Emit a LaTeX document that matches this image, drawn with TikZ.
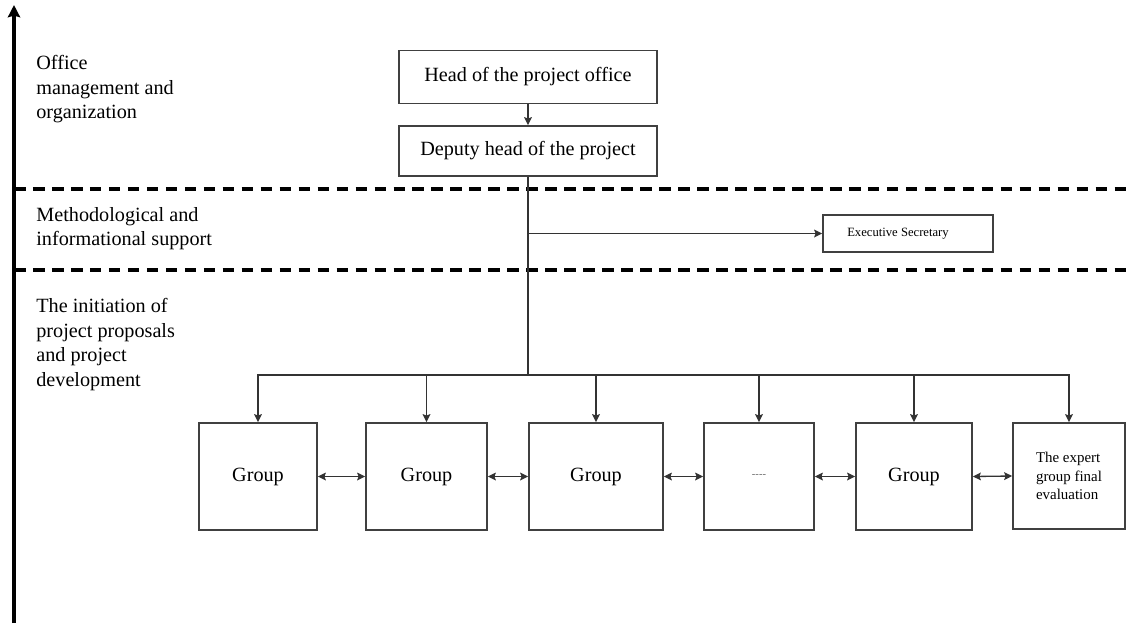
\documentclass[tikz,border=0pt]{standalone}
\usepackage{fontspec}
\setmainfont{Liberation Serif}
\usetikzlibrary{positioning}
\usetikzlibrary{arrows.meta}

\tikzset{
  box/.style={draw=black!75,line width=0.9pt,inner sep=0pt,font=\fontsize{11.5}{14}\selectfont},
  lvl/.style={anchor=north west,align=left,inner sep=0pt,font=\fontsize{11.5}{14}\selectfont},
  conn/.style={black!80,line width=0.75pt},
  arr/.style={conn,-{Stealth[length=4.6pt,width=4.4pt,inset=0.8pt]}},
  barr/.style={conn,{Stealth[length=4.6pt,width=4.4pt,inset=0.8pt]}-{Stealth[length=4.6pt,width=4.4pt,inset=0.8pt]}},
  sep/.style={line width=2.2pt,dash pattern=on 6.6pt off 4.2pt},
}

\begin{document}
\begin{tikzpicture}[x=0.02cm,y=-0.02cm]
	\useasboundingbox (0,0) rectangle (1126,623);

	% axis and level separators
	\coordinate (axbot) at (14,623);
	\coordinate (axtop) at (14,5);
	\draw[line width=1.9pt,-{Stealth[length=7pt,width=7pt,inset=1pt]}] (axbot) -- (axtop);
	\draw[sep] (14,189) -- (1126,189);
	\draw[sep] (14,270) -- (1126,270);

	% level labels
	\node[lvl] (lvl0) at (36,55) {Office\\management and\\organization};
	\node[lvl] (lvl1) at (36,207) {Methodological and\\informational support};
	\node[lvl] (lvl2) at (36,298) {The initiation of\\project proposals\\and project\\development};

	% management
	\node[box,minimum width=5.16cm,minimum height=1.06cm] (head) at (528,77) {Head of the project office};
	\node[box,minimum width=5.16cm,minimum height=1.0cm] (deputy) at (528,151) {Deputy head of the project};
	\node[box,minimum width=3.4cm,minimum height=0.74cm,font=\fontsize{7.2}{9}\selectfont] (secr) at (908,233.5) {Executive Secretary\hspace*{0.4cm}};

	% groups
	\foreach \i/\cx/\w/\txt in {0/258/2.36/Group,1/426.5/2.42/Group,2/596/2.68/Group,3/759/2.2/{\fontsize{6}{7}\selectfont\color{black!60}{-}{-}{-}{-}},4/914/2.32/Group}
		\node[box,minimum width=\w cm,minimum height=2.14cm] (group\i) at (\cx,476.5) {\txt};
	\node[box,minimum width=2.24cm,minimum height=2.12cm,align=left,font=\fontsize{8.5}{10.5}\selectfont] (expert) at (1069,476) {The expert\\group final\\evaluation};

	% connectors
	\coordinate (bus) at (528,375);
	\draw[arr] (head) -- (deputy);
	\draw[conn] (deputy) -- (bus);
	\draw[arr] (deputy.south |- secr.west) -- (secr.west);
	\foreach \i in {0,...,4} \draw[arr] (bus) -| (group\i.north);
	\draw[arr] (bus) -| (expert.north);

	% neighbour links
	\foreach \i/\j in {0/1,1/2,2/3,3/4} \draw[barr] (group\i.east) -- (group\j.west);
	\draw[barr] (group4.east) -- (expert.west);
\end{tikzpicture}
\end{document}
